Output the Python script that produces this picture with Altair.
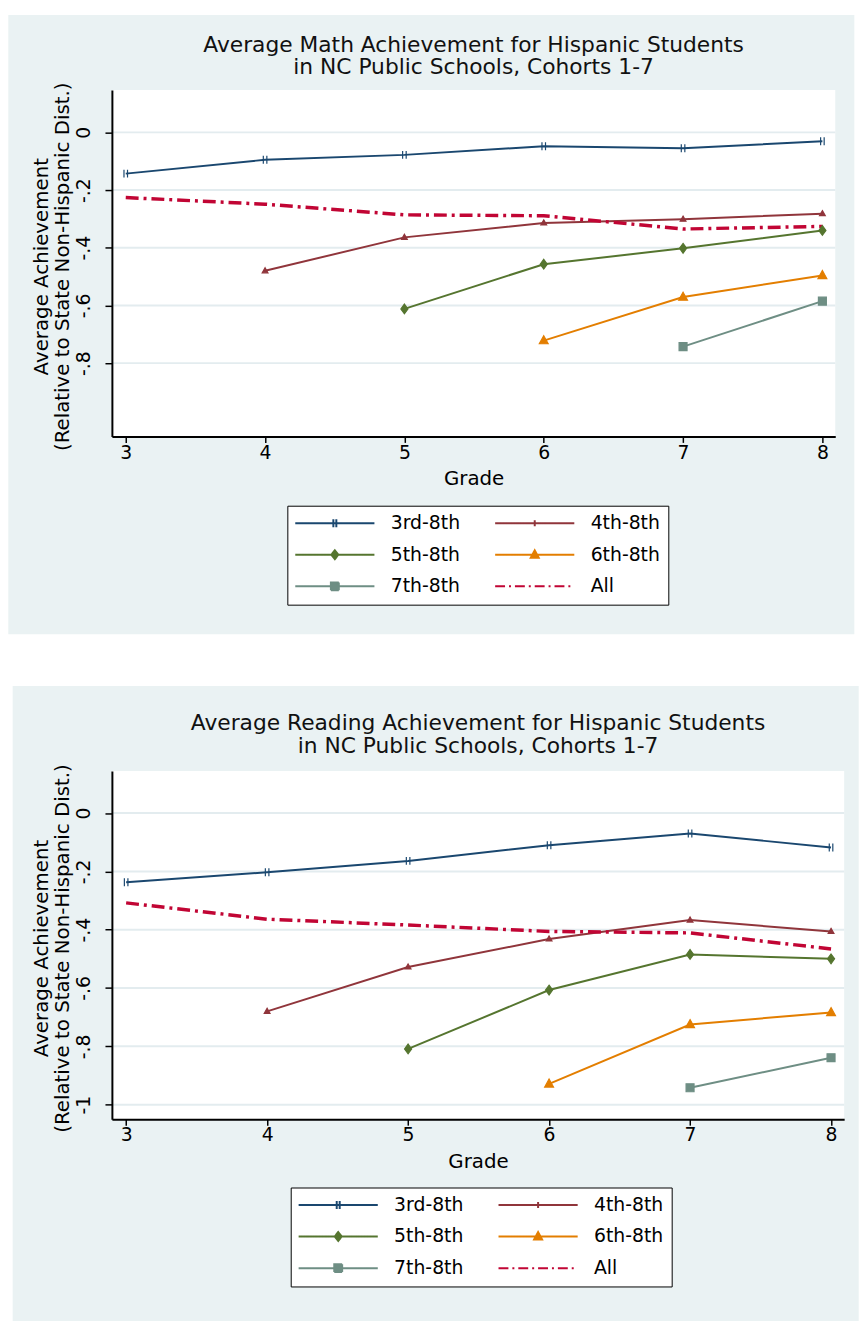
import altair as alt
import pandas as pd

# ---------------- data ----------------
grades = [3, 4, 5, 6, 7, 8]
cohorts = ["3rd-8th", "4th-8th", "5th-8th", "6th-8th", "7th-8th", "All"]
cohort_start = [3, 4, 5, 6, 7, 3]
colors = ["#1a476f", "#90353b", "#55752f", "#e37e00", "#6e8e84", "#c10534"]

math_3rd = [-0.143, -0.095, -0.078, -0.048, -0.055, -0.031]
math_4th = [-0.480, -0.364, -0.314, -0.301, -0.282]
math_5th = [-0.612, -0.457, -0.402, -0.340]
math_6th = [-0.722, -0.571, -0.496]
math_7th = [-0.743, -0.585]
math_all = [-0.226, -0.249, -0.286, -0.289, -0.335, -0.326]

read_3rd = [-0.237, -0.203, -0.164, -0.110, -0.070, -0.118]
read_4th = [-0.680, -0.528, -0.432, -0.367, -0.406]
read_5th = [-0.809, -0.607, -0.485, -0.500]
read_6th = [-0.929, -0.725, -0.684]
read_7th = [-0.942, -0.839]
read_all = [-0.308, -0.364, -0.384, -0.406, -0.411, -0.466]

math_ticks = [0, -0.2, -0.4, -0.6, -0.8]
read_ticks = [0, -0.2, -0.4, -0.6, -0.8, -1.0]

x_title = "Grade"
y_title = ["Average Achievement", "(Relative to State Non-Hispanic Dist.)"]
math_title = ["Average Math Achievement for Hispanic Students",
              "in NC Public Schools, Cohorts 1-7"]
read_title = ["Average Reading Achievement for Hispanic Students",
              "in NC Public Schools, Cohorts 1-7"]

# ---------------- style ----------------
FONT = "DejaVu Sans"
BG = "#eaf2f3"
GRID = "#e3ecef"

point_paths = [
    "M-0.4,-0.9V0.9M0.4,-0.9V0.9",
    "M0,-0.7L0.65,0.45H-0.65Z",
    "M0,-1.1L0.8,0L0,1.1L-0.8,0Z",
    "M0,-1.1L1,0.7H-1Z",
    "M-0.9,-0.9H0.9V0.9H-0.9Z",
]
legend_paths = [
    "M-8,0H8M-0.3,-0.8V0.8M0.3,-0.8V0.8",
    "M-8,0H8M0,-0.6V0.6",
    "M-8,0H8M0,-0.9L0.7,0L0,0.9L-0.7,0ZM0,-0.4L0.3,0L0,0.4L-0.3,0Z",
    "M-8,0H8M0,-0.9L0.8,0.6H-0.8ZM0,-0.3L0.3,0.3H-0.3Z",
    "M-8,0H8M-0.8,-0.8H0.8V0.8H-0.8ZM-0.4,-0.4H0.4V0.4H-0.4Z",
    "M-8,0H8",
]
legend_dashes = [[1, 0], [1, 0], [1, 0], [1, 0], [1, 0], [10, 4, 2, 4]]


def build_df(series):
    rows = []
    for c, start, vals in zip(cohorts, cohort_start, series):
        for i, v in enumerate(vals):
            rows.append({"cohort": c, "grade": start + i, "value": v})
    return pd.DataFrame(rows)


def panel(series, ticks, title_lines, W, H, xdom, ydom, rect, legxy, title_y):
    df = build_df(series)
    one = pd.DataFrame({"a": [0]})
    tick_df = pd.DataFrame({"value": ticks})

    xenc = alt.X("grade:Q", scale=alt.Scale(domain=xdom, nice=False, zero=False),
                 axis=alt.Axis(values=grades, format="d", title=x_title, grid=False,
                               domainColor="black", domainWidth=2, tickColor="black",
                               tickWidth=1.5, tickSize=6, labelFont=FONT, labelFontSize=19,
                               labelColor="black", labelPadding=1, labelFlush=False,
                               titleFont=FONT, titleFontSize=20, titleFontWeight="normal",
                               titleColor="black", titleBaseline="alphabetic", titleY=49,
                               zindex=1))
    yenc = alt.Y("value:Q", scale=alt.Scale(domain=ydom, nice=False, zero=False),
                 axis=alt.Axis(values=ticks,
                               labelExpr="datum.value == 0 ? '0' : replace(replace(format(datum.value, '.1~f'), '\u2212', '-'), '0.', '.')",
                               title=y_title, grid=False, domainColor="black", domainWidth=2,
                               tickColor="black", tickWidth=1.5, tickSize=7,
                               labelFont=FONT, labelFontSize=19, labelColor="black",
                               labelAngle=270, labelAlign="center", labelBaseline="alphabetic",
                               labelPadding=16, labelOverlap=False,
                               titleFont=FONT, titleFontSize=20, titleFontWeight="normal",
                               titleColor="black", titleAngle=270, titleAlign="center",
                               titleBaseline="alphabetic", titleX=-64.7, titleY=H / 2 + 3,
                               titleLineHeight=21, zindex=1))

    legend = alt.Legend(
        orient="none", legendX=legxy[0], legendY=legxy[1], columns=2, direction="horizontal",
        title=None, symbolSize=100, symbolStrokeWidth=2, symbolOffset=30.5, labelOffset=47,
        labelFont=FONT, labelFontSize=19, labelColor="black", labelLimit=300,
        rowPadding=12, columnPadding=31, padding=8, symbolOpacity=1,
        strokeColor="black", fillColor="white",
    )
    cscale = alt.Scale(domain=cohorts, range=colors)
    cenc = alt.Color("cohort:N", scale=cscale, legend=legend)

    bg = alt.Chart(one).mark_rect(fill=BG).encode(
        x=alt.value(rect[0]), x2=alt.value(rect[1]), y=alt.value(rect[2]), y2=alt.value(rect[3]))
    white = alt.Chart(one).mark_rect(fill="white").encode(
        x=alt.value(0), x2=alt.value(W), y=alt.value(0), y2=alt.value(H))
    grid = alt.Chart(tick_df).mark_rule(color=GRID, strokeWidth=2).encode(y=yenc)
    lines = alt.Chart(df).transform_filter("datum.cohort != 'All'").mark_line(
        strokeWidth=2).encode(x=xenc, y=yenc, color=cenc)
    line_all = alt.Chart(df).transform_filter("datum.cohort == 'All'").mark_line(
        strokeWidth=3.5, strokeDash=[13, 5, 3, 5]).encode(x=xenc, y=yenc, color=cenc)
    pts = []
    for c, path in zip(cohorts[:5], point_paths):
        pts.append(alt.Chart(df).transform_filter(f"datum.cohort == '{c}'").mark_point(
            shape=path, filled=True, size=80, strokeWidth=1.2, opacity=1).encode(
            x=xenc, y=yenc,
            fill=alt.Fill("cohort:N", scale=cscale, legend=None),
            stroke=alt.Stroke("cohort:N", scale=cscale, legend=None)))
    # legend-only layer: symbol = line sample with marker
    leg = alt.Chart(df).transform_filter("false").mark_point(
        filled=False, strokeWidth=2, opacity=1).encode(
        x=xenc, y=yenc, color=cenc,
        shape=alt.Shape("cohort:N", scale=alt.Scale(domain=cohorts, range=legend_paths), legend=legend),
        strokeDash=alt.StrokeDash("cohort:N", scale=alt.Scale(domain=cohorts, range=legend_dashes), legend=legend),
    )
    title = alt.Chart(one).mark_text(
        text=title_lines, font=FONT, fontSize=22, lineHeight=23, align="center",
        baseline="alphabetic", color="#111111").encode(x=alt.value(W / 2), y=alt.value(title_y))

    return alt.layer(bg, white, grid, lines, line_all, *pts, leg, title).properties(width=W, height=H)


top = panel([math_3rd, math_4th, math_5th, math_6th, math_7th, math_all], math_ticks, math_title,
            731, 350, [2.9006, 8.0923], [-1.0542, 0.1465],
            (-104.7, 750.3, -76, 550), (177.3, 420), -39)
bottom = panel([read_3rd, read_4th, read_5th, read_6th, read_7th, read_all], read_ticks, read_title,
               740, 352, [2.899, 8.093], [-1.050, 0.1446],
               (-100.3, 754.7, -85.7, 556), (180.7, 421), -41.5)

chart = alt.vconcat(top, bottom, spacing=52).resolve_scale(
    x="independent", y="independent", color="independent", fill="independent",
    stroke="independent", shape="independent", strokeDash="independent").resolve_legend(
    color="independent", shape="independent", strokeDash="independent").properties(
    padding=0, background="white").configure_view(stroke=None)

chart.save("out.html", embed_options={"renderer": "svg", "actions": False})
